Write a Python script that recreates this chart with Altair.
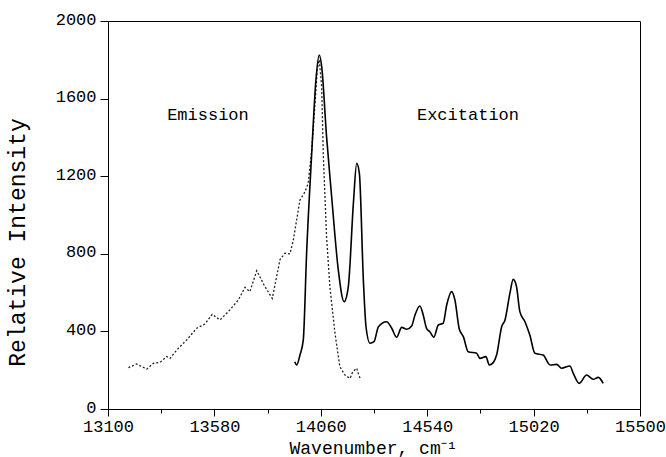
import altair as alt
import pandas as pd

# Emission spectrum (dotted)
emission_x = [13192, 13229, 13275, 13304, 13335, 13365, 13380, 13410, 13455, 13500,
              13537, 13570, 13605, 13643, 13688, 13718, 13740, 13771, 13804, 13841,
              13876, 13898, 13921, 13936, 13966, 13989, 14003, 14019, 14034, 14044,
              14053, 14064, 14071, 14086, 14101, 14124, 14146, 14169, 14192, 14204,
              14222, 14229, 14240]
emission_y = [213, 232, 206, 235, 241, 270, 261, 304, 356, 416,
              438, 488, 459, 502, 562, 627, 605, 713, 639, 570,
              770, 803, 800, 871, 1077, 1120, 1163, 1335, 1576, 1747,
              1800, 1661, 1318, 888, 630, 390, 218, 175, 158, 192,
              210, 184, 149]

# Excitation spectrum (solid)
excitation_x = [13943, 13951, 13966, 13981, 13996, 14019, 14038, 14053, 14064, 14086,
                14109, 14139, 14165, 14184, 14207, 14222, 14234, 14252, 14264, 14282,
                14300, 14320, 14357, 14380, 14402, 14425, 14447, 14470, 14485, 14507,
                14522, 14537, 14552, 14570, 14590, 14612, 14628, 14650, 14665, 14685,
                14703, 14725, 14763, 14778, 14805, 14820, 14838, 14853, 14876, 14891,
                14913, 14928, 14943, 14958, 14981, 15003, 15026, 15063, 15094, 15124,
                15146, 15184, 15199, 15226, 15259, 15289, 15312, 15334]
excitation_y = [244, 227, 278, 356, 803, 1318, 1696, 1825, 1765, 1404,
                1094, 716, 553, 630, 1060, 1266, 1215, 665, 424, 339,
                347, 424, 450, 416, 370, 421, 411, 428, 485, 531,
                485, 416, 398, 370, 433, 442, 536, 605, 562, 411,
                373, 295, 287, 261, 270, 227, 239, 278, 424, 459,
                596, 668, 630, 502, 450, 381, 287, 278, 227, 230,
                210, 222, 184, 132, 175, 153, 163, 132]

label_text = ["Emission", "Excitation"]
label_x = [13551, 14724]
label_y = [1515, 1515]

x_ticks = list(range(13100, 15501, 240))
y_ticks = list(range(0, 2001, 200))

FONT = "Liberation Mono"

em = pd.DataFrame({"x": emission_x, "y": emission_y})
ex = pd.DataFrame({"x": excitation_x, "y": excitation_y})
lab = pd.DataFrame({"t": label_text, "x": label_x, "y": label_y})

xscale = alt.Scale(domain=[13100, 15500], nice=False, zero=False)
yscale = alt.Scale(domain=[0, 2000], nice=False)

xaxis = alt.Axis(
    values=x_ticks,
    labelExpr="(datum.value - 13100) % 480 === 0 ? datum.label : ''",
    format="d",
    tickSize={"condition": {"test": "(datum.value - 13100) % 480 === 0", "value": 7}, "value": 4},
    labelPadding=2, labelFlush=False, labelOverlap=False,
    labelFont=FONT, labelFontSize=17, labelColor="black",
    title="Wavenumber, cm⁻¹",
    titleFont=FONT, titleFontSize=18, titleFontWeight="normal", titleColor="black",
    titleX=265, titleY=44, titleBaseline="alphabetic", titleAnchor="middle",
    grid=False, domainColor="black", tickColor="black",
)
yaxis = alt.Axis(
    values=y_ticks,
    labelExpr="datum.value % 400 === 0 ? datum.label : ''",
    format="d",
    tickSize={"condition": {"test": "datum.value % 400 === 0", "value": 8}, "value": 4},
    labelPadding=4, labelOverlap=False, labelOffset=-2,
    labelFont=FONT, labelFontSize=17, labelColor="black",
    title="Relative Intensity",
    titleFont=FONT, titleFontSize=23, titleFontWeight="normal", titleColor="black",
    titleX=-91, titleY=221, titleAngle=-90, titleAlign="center", titleBaseline="middle",
    grid=False, domainColor="black", tickColor="black",
)

emission = alt.Chart(em).mark_line(
    color="#222222", strokeWidth=1.3, strokeDash=[2, 2]
).encode(
    x=alt.X("x:Q", scale=xscale, axis=xaxis),
    y=alt.Y("y:Q", scale=yscale, axis=yaxis),
)

excitation = alt.Chart(ex).mark_line(
    color="black", strokeWidth=1.6, interpolate="monotone"
).encode(
    x=alt.X("x:Q", scale=xscale),
    y=alt.Y("y:Q", scale=yscale),
)

texts = alt.Chart(lab).mark_text(
    font=FONT, fontSize=17, color="black", align="center", baseline="middle"
).encode(
    x=alt.X("x:Q", scale=xscale),
    y=alt.Y("y:Q", scale=yscale),
    text="t:N",
)

chart = alt.layer(emission, excitation, texts).properties(
    width=532, height=388,
    autosize="none",
    padding={"left": 108, "top": 21, "right": 26, "bottom": 48},
    background="white",
).configure_view(stroke="black", strokeWidth=1)

chart.save("out.html", embed_options={"renderer": "svg", "actions": False})
